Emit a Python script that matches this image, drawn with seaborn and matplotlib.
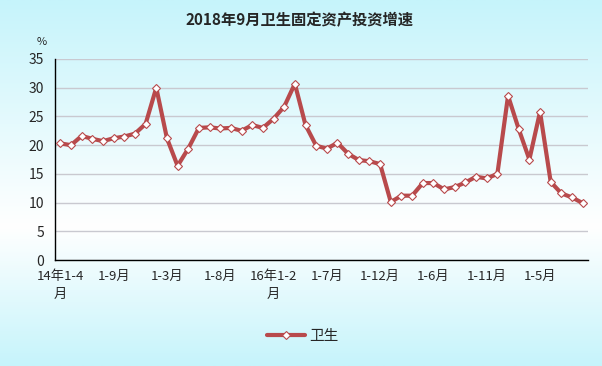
import numpy as np
import pandas as pd
import matplotlib
matplotlib.use("Agg")
import matplotlib.pyplot as plt
import seaborn as sns
from matplotlib.colors import LinearSegmentedColormap
from matplotlib.lines import Line2D

# ---- data ----
periods = (
    ["14年1-4月", "1-5月", "1-6月", "1-7月", "1-8月", "1-9月", "1-10月", "1-11月", "1-12月"]
    + ["15年1-2月", "1-3月", "1-4月", "1-5月", "1-6月", "1-7月", "1-8月", "1-9月", "1-10月", "1-11月", "1-12月"]
    + ["16年1-2月", "1-3月", "1-4月", "1-5月", "1-6月", "1-7月", "1-8月", "1-9月", "1-10月", "1-11月", "1-12月"]
    + ["17年1-2月", "1-3月", "1-4月", "1-5月", "1-6月", "1-7月", "1-8月", "1-9月", "1-10月", "1-11月", "1-12月"]
    + ["18年1-2月", "1-3月", "1-4月", "1-5月", "1-6月", "1-7月", "1-8月", "1-9月"]
)
growth = [
    20.3, 20.0, 21.6, 21.1, 20.7, 21.2, 21.5, 22.0, 23.7,
    30.0, 21.2, 16.4, 19.4, 23.0, 23.1, 22.9, 23.0, 22.5, 23.5, 23.0,
    24.6, 26.7, 30.7, 23.5, 19.9, 19.4, 20.4, 18.5, 17.4, 17.2, 16.7,
    10.1, 11.2, 11.2, 13.4, 13.4, 12.3, 12.7, 13.5, 14.5, 14.2, 15.0,
    28.6, 22.8, 17.5, 25.8, 13.6, 11.6, 10.9, 9.9,
]
tick_positions = [0, 5, 10, 15, 20, 25, 30, 35, 40, 45]
tick_labels = ["14年1-4\n月", "1-9月", "1-3月", "1-8月", "16年1-2\n月",
               "1-7月", "1-12月", "1-6月", "1-11月", "1-5月"]
series_name = "卫生"
title = "2018年9月卫生固定资产投资增速"

df = pd.DataFrame({"idx": np.arange(len(growth)), "value": growth})

sns.set_theme(style="white")
plt.rcParams["font.family"] = ["Noto Sans CJK SC", "DejaVu Sans"]
plt.rcParams["axes.unicode_minus"] = False

fig = plt.figure(figsize=(6.02, 3.66), dpi=100)

# background gradient
bg = fig.add_axes([0, 0, 1, 1], zorder=-10)
cmap = LinearSegmentedColormap.from_list(
    "bg", [(0, "#c6f4fb"), (0.62, "#ffffff"), (1.0, "#c6f4fb")])
grad = np.linspace(0, 1, 256).reshape(-1, 1)
bg.imshow(grad, aspect="auto", cmap=cmap, extent=[0, 1, 0, 1], origin="upper")
bg.set_axis_off()

ax = fig.add_axes([55 / 602, 1 - 260 / 366, 533 / 602, 201 / 366])
ax.set_facecolor("none")

line_color = "#b84a4c"
sns.lineplot(data=df, x="idx", y="value", ax=ax, color=line_color, linewidth=3,
             marker="D", markersize=4.5, markerfacecolor="white",
             markeredgecolor=line_color, markeredgewidth=0.8, zorder=3)

ax.set_xlim(-0.5, len(growth) - 0.5)
ax.set_ylim(0, 35)
ax.set_yticks(range(0, 36, 5))
ax.yaxis.grid(True, color="#c9c9d0", linewidth=1)
ax.xaxis.grid(False)
ax.set_xlabel("")
ax.set_ylabel("")

for s in ["top", "right"]:
    ax.spines[s].set_visible(False)
for s in ["left", "bottom"]:
    ax.spines[s].set_visible(True)
    ax.spines[s].set_color("black")
    ax.spines[s].set_linewidth(1)

ax.set_xticks(tick_positions)
ax.set_xticklabels(tick_labels, fontsize=9.5, linespacing=1.5)
ax.set_xticks(np.arange(-0.5, len(growth), 1), minor=True)
ax.tick_params(axis="x", which="major", length=0, pad=7)
ax.tick_params(axis="x", which="minor", direction="in", length=4, width=1, color="black")
ax.tick_params(axis="y", which="major", direction="out", length=4, width=1,
               color="black", labelsize=10, pad=4)

fig.text(300 / 602, 1 - 20 / 366, title, ha="center", va="center",
         fontsize=11, fontweight="bold")
fig.text(42 / 602, 1 - 42 / 366, "%", ha="center", va="center", fontsize=8)

handle = Line2D([], [], color=line_color, linewidth=3, marker="D", markersize=4.5,
                markerfacecolor="white", markeredgecolor=line_color, markeredgewidth=0.8)
fig.legend([handle], [series_name], loc="center", bbox_to_anchor=(303 / 602, 1 - 336 / 366),
           frameon=False, fontsize=10.5, handlelength=2.6, handletextpad=0.3)

fig.savefig("out.png", dpi=100)
